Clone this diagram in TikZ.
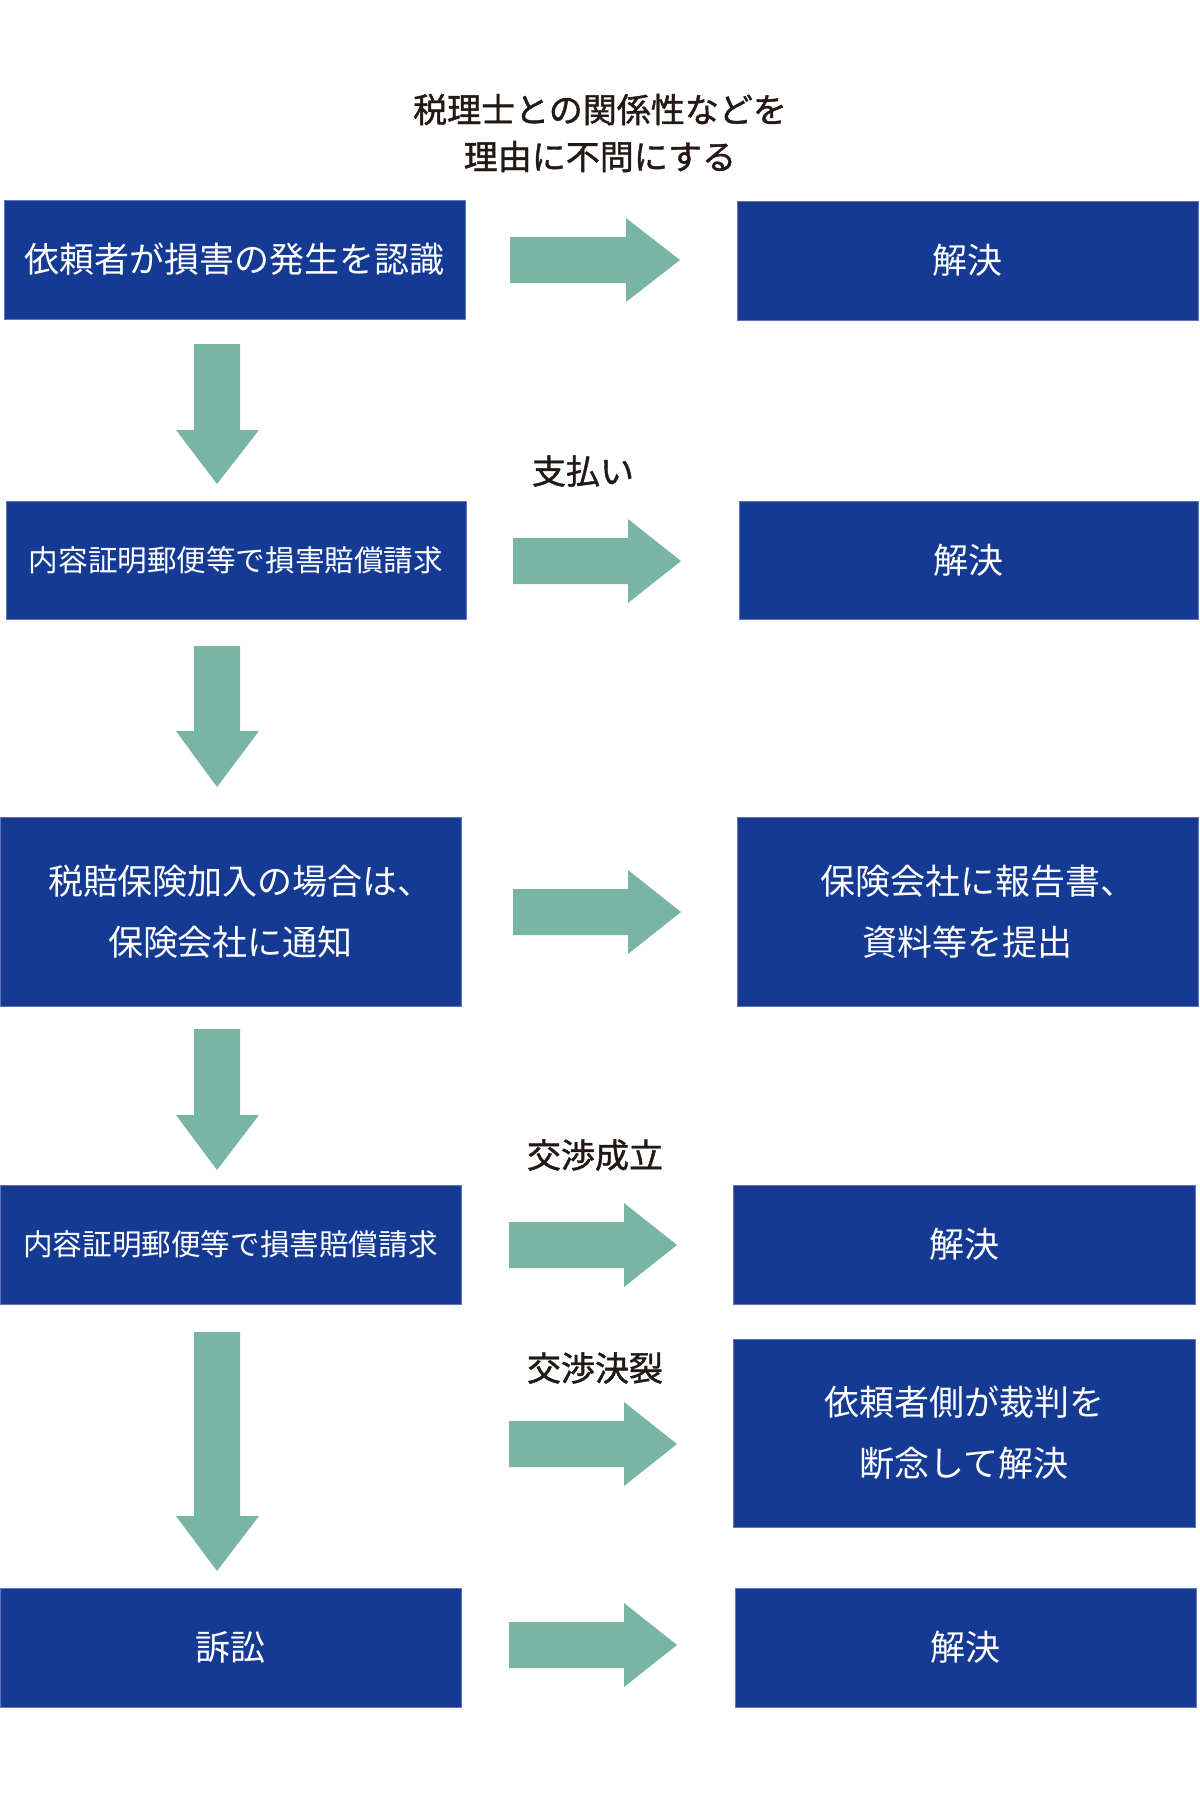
\documentclass[tikz,border=0pt]{standalone}
\usepackage{fontspec}
\setmainfont{Noto Sans CJK JP}
\newfontfamily\jpmedium{Noto Sans CJK JP}[FakeBold=1.2]
\definecolor{boxblue}{HTML}{153A94}
\definecolor{boxedge}{HTML}{6275BC}
\definecolor{arrowgreen}{HTML}{78B5A4}
\definecolor{labelink}{HTML}{231815}
\tikzset{
  flowbox/.style={fill=boxblue, draw=boxedge, line width=0.8pt},
  boxtext/.style={text=white, align=center, font=\fontsize{35}{62}\selectfont, inner sep=0pt},
  widetext/.style={boxtext, font=\fontsize{29.6}{62}\selectfont},
  twoline/.style={boxtext, font=\fontsize{35}{61}\selectfont},
  labeltext/.style={text=labelink, align=center, font=\jpmedium\fontsize{34}{47}\selectfont, inner sep=0pt}
}
\begin{document}
\begin{tikzpicture}[x=1pt,y=-1pt]
\useasboundingbox (0,0) rectangle (1200,1800);
% boxes
\newcommand\flowboxat[7]{%
  \fill[flowbox] (#2,#3) rectangle (#4,#5);
  \node[#6] (#1) at ({(#2+#4)/2},{(#3+#5)/2}) {#7};}
\flowboxat{L1}{4}{200}{465}{319}{boxtext}{依頼者が損害の発生を認識}
\flowboxat{R1}{737}{201}{1198}{320}{boxtext}{解決}
\flowboxat{L2}{6}{501}{466}{619}{widetext}{内容証明郵便等で損害賠償請求}
\flowboxat{R2}{739}{501}{1198}{619}{boxtext}{解決}
\flowboxat{L3}{0}{817}{461}{1006}{twoline}{税賠保険加入の場合は、\kern-20pt\\保険会社に通知}
\flowboxat{R3}{737}{817}{1198}{1006}{twoline}{保険会社に報告書、\kern-20pt\\資料等を提出}
\flowboxat{L4}{0}{1185}{461}{1304}{widetext}{内容証明郵便等で損害賠償請求}
\flowboxat{R4}{733}{1185}{1195}{1304}{boxtext}{解決}
\flowboxat{R5}{733}{1339}{1195}{1527}{twoline}{依頼者側が裁判を\\断念して解決}
\flowboxat{L5}{0}{1588}{461}{1707}{boxtext}{訴訟}
\flowboxat{R6}{735}{1588}{1196}{1707}{boxtext}{解決}
% labels
\node[labeltext] (t1) at (600,133) {税理士との関係性などを\\理由に不問にする};
\node[labeltext] (t2) at (583,471) {支払い};
\node[labeltext] (t3) at (595,1155) {交渉成立};
\node[labeltext] (t4) at (595,1368) {交渉決裂};
% right block arrows: start x, shaft end x, tip x, centre y
\newcommand\rightblock[4]{%
  \fill[arrowgreen] (#1,#4-23) -- (#2,#4-23) -- (#2,#4-42) -- (#3,#4) -- (#2,#4+42) -- (#2,#4+23) -- (#1,#4+23) -- cycle;}
\rightblock{510}{626}{680}{260}
\rightblock{513}{628}{681}{561}
\rightblock{513}{628}{681}{912}
\rightblock{509}{624}{677}{1245}
\rightblock{509}{624}{677}{1444}
\rightblock{509}{624}{677}{1645}
% down block arrows: top y, head start y, tip y
\newcommand\downblock[3]{%
  \fill[arrowgreen] (194,#1) -- (240,#1) -- (240,#2) -- (259,#2) -- (217,#3) -- (176,#2) -- (194,#2) -- cycle;}
\downblock{344}{430}{484}
\downblock{646}{731}{787}
\downblock{1029}{1115}{1170}
\downblock{1332}{1516}{1571}
\end{tikzpicture}
\end{document}
